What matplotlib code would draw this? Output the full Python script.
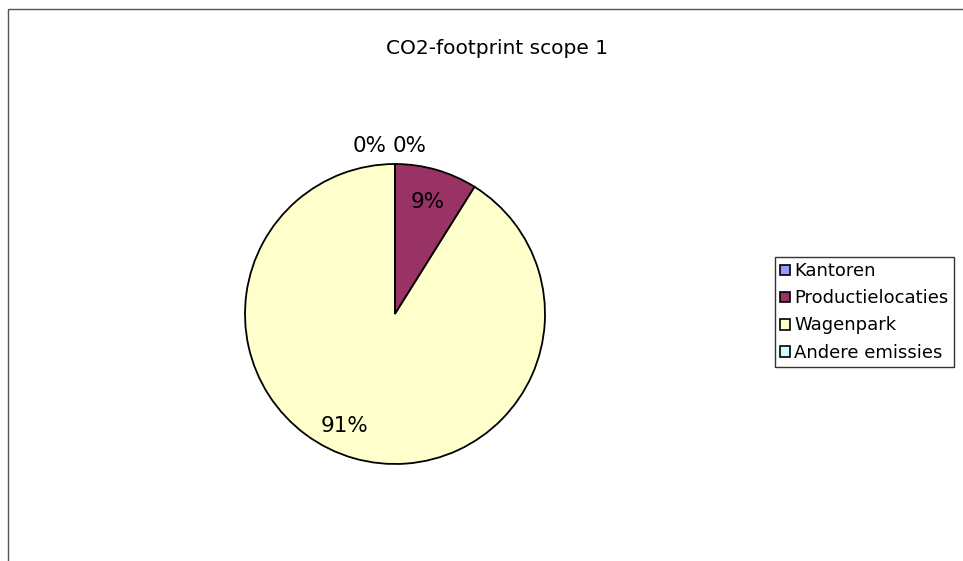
import numpy as np
import matplotlib
matplotlib.use("Agg")
from matplotlib import pyplot as plt
from matplotlib.patches import Rectangle

categories = ['Kantoren', 'Productielocaties', 'Wagenpark', 'Andere emissies']
values = [0.0, 8.9, 91.1, 0.0]
colors = ['#9999FF', '#993366', '#FFFFCC', '#CCFFFF']
title = 'CO2-footprint scope 1'

W, H = 963, 561
fig = plt.figure(figsize=(W / 100, H / 100), dpi=100)

# chart frame (runs off the right and bottom edges)
fig.patches.append(Rectangle((8 / W, -0.1), 1.2, 1 - 9 / H + 0.1, transform=fig.transFigure,
                             fill=False, edgecolor='#555555', linewidth=1.0))

fig.text(497 / W, 1 - 48 / H, title, ha='center', va='center', fontsize=14.5)

# pie centre (395, 314) px, radius 150 px
cx, cy, r = 395, 314, 150
ax = fig.add_axes([(cx - r) / W, (H - cy - r) / H, 2 * r / W, 2 * r / H])
wedges, _ = ax.pie(values, colors=colors, startangle=90, counterclock=False,
                   wedgeprops=dict(edgecolor='black', linewidth=1.3))
ax.set_xlim(-1, 1)
ax.set_ylim(-1, 1)
ax.set_aspect('equal')
ax.axis('off')

total = sum(values)
start = 90.0
for i, v in enumerate(values):
    frac = v / total
    pct = '{:.0f}%'.format(100 * frac)
    if v > 0:
        mid = np.deg2rad(start - 360 * frac / 2)
        d = 0.78
        x, y = d * np.cos(mid), d * np.sin(mid)
        if i == 2:
            x -= 0.12
        ax.text(x, y, pct, ha='center', va='center', fontsize=15.5)
    else:
        # zero slices: labels sit just outside the top of the pie
        xo = -0.167 if i == 0 else 0.1
        ax.text(xo, 1.12, pct, ha='center', va='center', fontsize=15.5,
                clip_on=False)
    start -= 360 * frac

leg = fig.legend(wedges, categories, loc='upper left',
                 bbox_to_anchor=(775 / W, 1 - 257 / H), frameon=True,
                 fancybox=False, fontsize=13, handlelength=0.55,
                 handleheight=0.55, handletextpad=0.2, labelspacing=0.5,
                 borderpad=0.3, borderaxespad=0)
leg.get_frame().set_edgecolor('black')
leg.get_frame().set_linewidth(1.0)
for h in leg.legend_handles:
    h.set_linewidth(1.2)
    h.set_edgecolor('black')

fig.savefig('out.png', dpi=100)
